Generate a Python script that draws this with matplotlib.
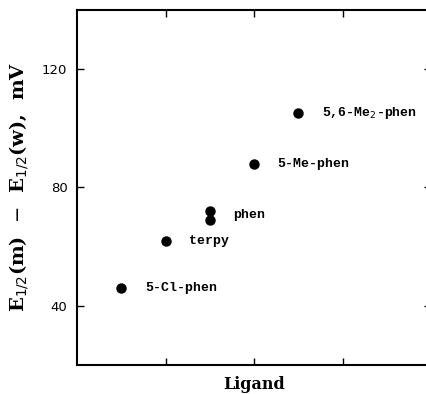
import matplotlib
matplotlib.use("Agg")
import matplotlib.pyplot as plt

ligands = ["5-Cl-phen", "terpy", "phen", "phen", "5-Me-phen", "5,6-Me$_2$-phen"]
xpos = [0.5, 1.0, 1.5, 1.5, 2.0, 2.5]
dE = [46, 62, 72, 69, 88, 105]
labelled = [True, True, True, False, True, True]

fig = plt.figure(figsize=(4.26, 3.94), dpi=100)
ax = fig.add_axes([0.181, 0.074, 0.831, 0.901])

ax.plot(xpos, dE, "o", color="black", markersize=6.5, clip_on=False)
for x, y, name, show in zip(xpos, dE, ligands, labelled):
    if not show:
        continue
    yy = y - 1.5 if name == "phen" else y
    ax.annotate(name, (x, yy), xytext=(17, 0), textcoords="offset points",
                va="center", ha="left", fontsize=9.5, fontweight="bold",
                family="Liberation Mono")

ax.set_xlim(0, 4)
ax.set_ylim(20, 140)
ax.set_xticks([1, 2, 3])
ax.set_xticklabels([])
ax.set_yticks([40, 80, 120])
ax.tick_params(direction="in", length=5, width=1, top=True, right=True,
               labelsize=9.5, pad=7)
for s in ax.spines.values():
    s.set_linewidth(1.5)

ax.set_xlabel("Ligand", family="DejaVu Serif", fontweight="bold", fontsize=11.5, labelpad=1)
ax.set_ylabel(r"E$_{1/2}$(m)  $-$  E$_{1/2}$(w),  mV", family="DejaVu Serif",
              fontweight="bold", fontsize=14, labelpad=8)

fig.savefig("out.png", dpi=100)
